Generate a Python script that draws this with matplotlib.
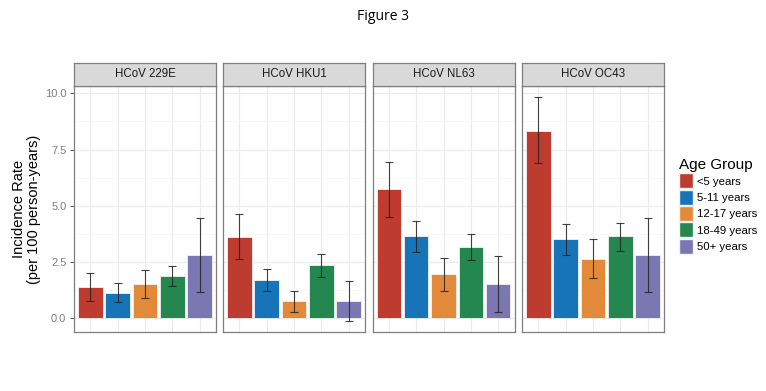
import matplotlib
matplotlib.use("Agg")
import matplotlib.pyplot as plt
import numpy as np
from matplotlib.patches import Patch

plt.rcParams['font.family'] = ['Liberation Sans', 'DejaVu Sans']

viruses = ["HCoV 229E", "HCoV HKU1", "HCoV NL63", "HCoV OC43"]
age_groups = ["<5 years", "5-11 years", "12-17 years", "18-49 years", "50+ years"]
colors = ["#BD3B2F", "#1874B9", "#E2893A", "#24874F", "#7B77B2"]

# incidence rate per 100 person-years, one row per virus
rate = [
    [1.38, 1.14, 1.53, 1.88, 2.84],
    [3.63, 1.69, 0.76, 2.36, 0.76],
    [5.76, 3.64, 1.99, 3.16, 1.53],
    [8.34, 3.51, 2.65, 3.64, 2.84],
]
lower = [
    [0.76, 0.73, 0.89, 1.42, 1.17],
    [2.64, 1.21, 0.30, 1.84, -0.10],
    [4.50, 2.93, 1.24, 2.58, 0.31],
    [6.89, 2.80, 1.81, 2.99, 1.17],
]
upper = [
    [2.00, 1.56, 2.16, 2.33, 4.46],
    [4.62, 2.19, 1.21, 2.87, 1.67],
    [6.96, 4.34, 2.67, 3.76, 2.76],
    [9.81, 4.21, 3.51, 4.25, 4.47],
]
yticks = [0.0, 2.5, 5.0, 7.5, 10.0]

W, H = 766, 391
fig = plt.figure(figsize=(W / 100, H / 100), dpi=100)
fig.text(383 / W, 1 - 16 / H, "Figure 3", ha="center", va="center", fontsize=10,
         family=["Open Sans", "DejaVu Sans"])

lefts = [74, 223, 372.5, 522]
pw = 142
bottom = 1 - 332 / H
ph = (332 - 86) / H
sh = (86 - 62.5) / H
edge = "#7f7f7f"

x = np.arange(1, 6)
for i, v in enumerate(viruses):
    ax = fig.add_axes([lefts[i] / W, bottom, pw / W, ph])
    r = np.array(rate[i])
    lo = r - np.array(lower[i])
    hi = np.array(upper[i]) - r
    ax.bar(x, r, width=0.9, color=colors, edgecolor="#f2f2f2", linewidth=0.6, zorder=3)
    ax.errorbar(x, r, yerr=[lo, hi], fmt="none", ecolor="#222222", elinewidth=0.8,
                capsize=3, capthick=0.8, alpha=0.85, zorder=4)
    ax.set_xlim(0.4, 5.6)
    ax.set_ylim(-0.6, 10.32)
    ax.set_yticks(yticks)
    ax.set_yticks([1.25, 3.75, 6.25, 8.75], minor=True)
    ax.set_xticks(x)
    ax.grid(True, which="major", color="#ebebeb", linewidth=0.8, zorder=0)
    ax.grid(True, which="minor", axis="y", color="#f5f5f5", linewidth=0.5, zorder=0)
    ax.tick_params(axis="x", length=0, labelbottom=False)
    ax.tick_params(axis="y", which="minor", length=0)
    if i == 0:
        ax.set_yticklabels(["0.0", "2.5", "5.0", "7.5", "10.0"], color="#7f7f7f", fontsize=8)
        ax.tick_params(axis="y", length=3, color="#555555", width=0.7, pad=2.5)
        ax.set_ylabel("Incidence Rate\n(per 100 person-years)", fontsize=10.5, labelpad=3,
                      linespacing=1.1)
    else:
        ax.tick_params(axis="y", length=0, labelleft=False)
    for s in ax.spines.values():
        s.set_color(edge)
        s.set_linewidth(0.9)

    sax = fig.add_axes([lefts[i] / W, bottom + ph, pw / W, sh])
    sax.set_facecolor("#d9d9d9")
    sax.set_xticks([])
    sax.set_yticks([])
    for s in sax.spines.values():
        s.set_color(edge)
        s.set_linewidth(0.9)
    sax.text(0.5, 0.5, v, ha="center", va="center", fontsize=8.3, color="#1a1a1a",
             transform=sax.transAxes)

handles = [Patch(facecolor=c, edgecolor="#f2f2f2", label=a) for c, a in zip(colors, age_groups)]
fig.legend(handles=handles, title="Age Group", loc="upper left",
           bbox_to_anchor=(679 / W, 1 - 158 / H), frameon=False, fontsize=8.2,
           title_fontsize=11, handlelength=1.25, handleheight=1.65, handletextpad=0.35,
           labelspacing=0.12, alignment="left", borderpad=0, borderaxespad=0)

fig.savefig("out.png", dpi=100)
